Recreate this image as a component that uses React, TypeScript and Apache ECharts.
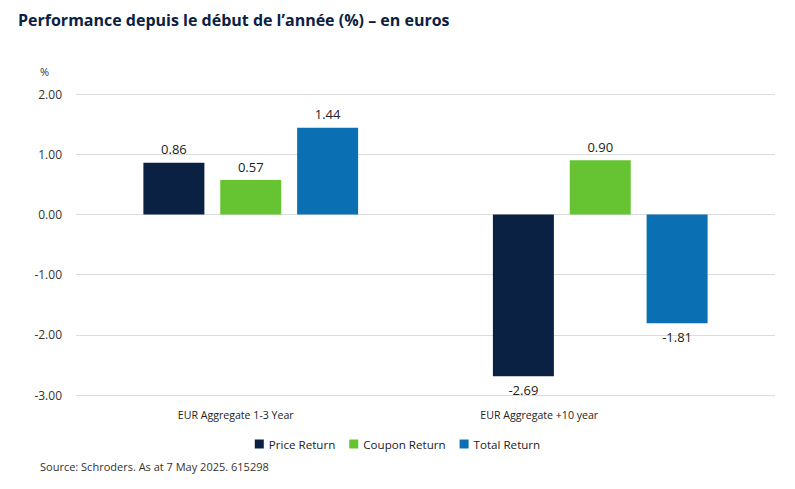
import React, { useEffect, useRef } from "react";
import * as echarts from "echarts";

const categories = ["EUR Aggregate 1-3 Year", "EUR Aggregate +10 year"];
const priceReturn = [0.86, -2.69];
const couponReturn = [0.57, 0.9];
const totalReturn = [1.44, -1.81];
const seriesNames = ["Price Return", "Coupon Return", "Total Return"];
const yTicks = { min: -3, max: 2, interval: 1 };

const colors = ["#0b2143", "#66c332", "#0a70b3"];

export default function App() {
  const ref = useRef<HTMLDivElement>(null);
  useEffect(() => {
    const chart = echarts.init(ref.current!, null, { renderer: "svg" });
    const font = "'Open Sans', 'Noto Sans', sans-serif";
    const mk = (name: string, data: number[], color: string) => ({
      name,
      type: "bar",
      barWidth: 61,
      barGap: "26%",
      itemStyle: { color },
      label: {
        show: true,
        formatter: (p: any) => Number(p.value).toFixed(2),
        color: "#222",
        fontSize: 13,
        fontFamily: font,
        distance: 7,
      },
      data: data.map((v: number) => ({
        value: v,
        label: { position: v >= 0 ? "top" : "bottom" },
      })),
    });
    const series = [
      mk(seriesNames[0], priceReturn, colors[0]),
      mk(seriesNames[1], couponReturn, colors[1]),
      mk(seriesNames[2], totalReturn, colors[2]),
    ];
    chart.setOption({
      animation: false,
      textStyle: { fontFamily: font },
      title: {
        text: "Performance depuis le début de l’année (%) – en euros",
        left: 13,
        top: 7,
        textStyle: { color: "#0b2143", fontSize: 16, fontWeight: "bold", fontFamily: font },
      },
      graphic: [
        {
          type: "text",
          left: 40,
          top: 66,
          style: { text: "%", fill: "#333", fontSize: 11, fontFamily: font },
        },
        {
          type: "text",
          left: 40,
          top: 461,
          style: {
            text: "Source: Schroders. As at 7 May 2025. 615298",
            fill: "#333",
            fontSize: 11,
            fontFamily: font,
          },
        },
      ],
      legend: {
        data: seriesNames,
        top: 433,
        left: "center",
        icon: "rect",
        itemWidth: 9,
        itemHeight: 9,
        itemGap: 14,
        textStyle: { color: "#222", fontSize: 11.6, fontFamily: font },
      },
      grid: { left: 76, right: 20, top: 94, bottom: 94, containLabel: false },
      xAxis: {
        type: "category",
        data: [
          { value: categories[0], textStyle: { padding: [0, 30, 0, 0] } },
          { value: categories[1], textStyle: { padding: [0, 122, 0, 0] } },
        ],
        axisLine: { show: false },
        axisTick: { show: false },
        axisLabel: { color: "#222", fontSize: 10.6, margin: 14, fontFamily: font },
      },
      yAxis: {
        type: "value",
        min: yTicks.min,
        max: yTicks.max,
        interval: yTicks.interval,
        axisLabel: {
          formatter: (v: number) => v.toFixed(2),
          color: "#333",
          fontSize: 12,
          margin: 14,
          fontFamily: font,
        },
        axisLine: { show: false },
        axisTick: { show: false },
        splitLine: { lineStyle: { color: "#dcdcdc", width: 1 } },
      },
      series,
    });
    return () => chart.dispose();
  }, []);
  return <div ref={ref} style={{ width: 795, height: 489, position: "absolute", left: 0, top: 0 }} />;
}
